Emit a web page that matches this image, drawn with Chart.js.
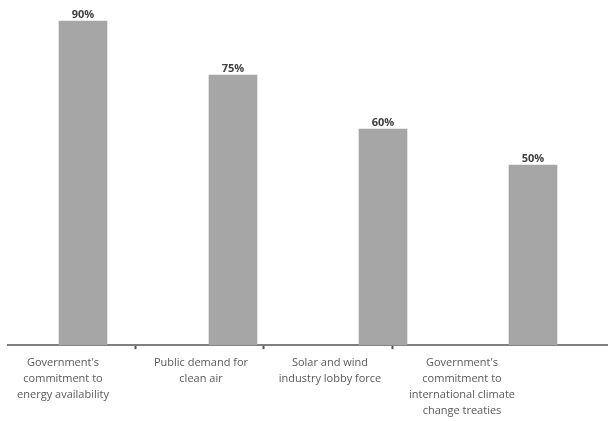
<!DOCTYPE html>
<html>
<head>
<meta charset="utf-8">
<script src="https://cdn.jsdelivr.net/npm/chart.js@4"></script>
<style>
  html, body { margin: 0; padding: 0; background: #fff; }
  #wrap { width: 608px; height: 421px; }
</style>
</head>
<body>
<div id="wrap"><canvas id="barChart"></canvas></div>
<script>
const categories = [
    ["Government's", "commitment to", "energy availability"],
    ["Public demand for", "clean air"],
    ["Solar and wind", "industry lobby force"],
    ["Government's", "commitment to", "international climate", "change treaties"]
]
const values = [90, 75, 60, 50]

// where the labels and the little separator ticks sit along the bottom axis (0..600 from the axis start)
const labelPos = [55, 193, 322, 454]
const sepPos = [127, 255, 384]

const CHART = document.getElementById('barChart')

// draws "90%" etc. above each bar
const valueLabels = {
    id: 'valueLabels',
    afterDatasetsDraw(chart) {
        const ctx = chart.ctx
        const meta = chart.getDatasetMeta(0)
        ctx.save()
        ctx.font = 'bold 11px "Open Sans", sans-serif'
        ctx.fillStyle = '#404040'
        ctx.textAlign = 'center'
        ctx.textBaseline = 'bottom'
        meta.data.forEach((bar, i) => {
            ctx.fillText(values[i] + '%', bar.x, bar.y - 1)
        })
        ctx.restore()
    }
}

let barChart = new Chart(CHART, {
    type: 'bar',
    data: {
        labels: categories.map(c => c.join(' ')),
        datasets: [{
            data: values,
            backgroundColor: 'rgb(166, 166, 166)',
            barThickness: 48,
            xAxisID: 'x',
            yAxisID: 'y'
        }]
    },
    options: {
        responsive: true,
        maintainAspectRatio: false,
        animation: false,
        layout: { padding: { top: 3, left: 8, right: 0, bottom: -4 } },
        plugins: {
            legend: { display: false },
            tooltip: { enabled: false }
        },
        scales: {
            x: { display: false },
            y: { display: false, min: 0, max: 95 },
            // label axis: bar charts default x axes to offset:true, turn that off
            x2: {
                type: 'linear',
                position: 'bottom',
                offset: false,
                bounds: 'data',
                min: 0,
                max: 600,
                afterBuildTicks(scale) {
                    const pos = [0, ...labelPos, ...sepPos, 600].sort((a, b) => a - b)
                    scale.ticks = pos.map(v => ({ value: v }))
                },
                afterFit(scale) {
                    scale.paddingLeft = 0
                    scale.paddingRight = 0
                },
                border: { display: true, color: '#7f7f7f', width: 2 },
                grid: {
                    offset: false,
                    drawOnChartArea: false,
                    drawTicks: true,
                    tickLength: 4,
                    tickWidth: 2,
                    tickColor: c => (c.tick && sepPos.includes(c.tick.value)) ? '#555555' : 'rgba(0,0,0,0)'
                },
                ticks: {
                    autoSkip: false,
                    maxRotation: 0,
                    padding: 6,
                    color: '#595959',
                    font: { family: '"Open Sans", sans-serif', size: 11, lineHeight: 1.45 },
                    callback: (value) => {
                        const i = labelPos.indexOf(value)
                        return i >= 0 ? categories[i] : ''
                    }
                }
            }
        }
    },
    plugins: [valueLabels]
})
</script>
</body>
</html>
